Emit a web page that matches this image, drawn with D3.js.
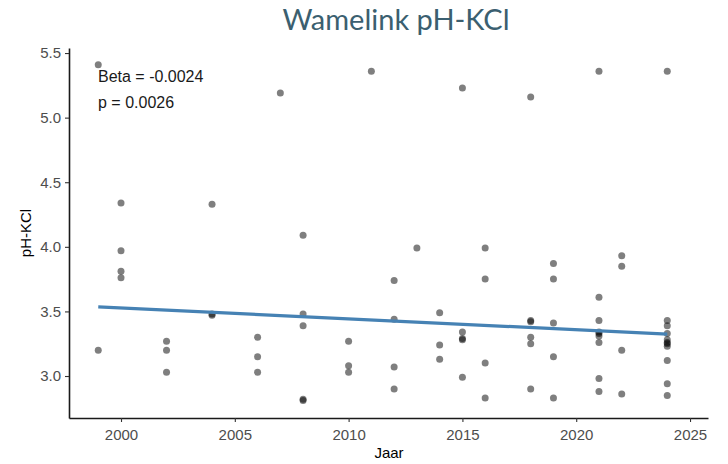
<!DOCTYPE html>
<html>
<head>
<meta charset="utf-8">
<script src="https://cdn.jsdelivr.net/npm/d3@7"></script>
<style>
body { margin: 0; background: #fff; }
svg { display: block; }
</style>
</head>
<body>
<svg id="chart"></svg>
<script>
var years = [1999, 1999,
  2000, 2000, 2000, 2000,
  2002, 2002, 2002,
  2004, 2004, 2004,
  2006, 2006, 2006,
  2007,
  2008, 2008, 2008, 2008, 2008,
  2010, 2010, 2010,
  2011,
  2012, 2012, 2012, 2012,
  2013,
  2014, 2014, 2014,
  2015, 2015, 2015, 2015, 2015,
  2016, 2016, 2016, 2016,
  2018, 2018, 2018, 2018, 2018, 2018,
  2019, 2019, 2019, 2019, 2019,
  2021, 2021, 2021, 2021, 2021, 2021, 2021, 2021, 2021,
  2022, 2022, 2022, 2022,
  2024, 2024, 2024, 2024, 2024, 2024, 2024, 2024, 2024, 2024, 2024];
var phValues = [5.41, 3.20,
  4.34, 3.97, 3.81, 3.76,
  3.27, 3.20, 3.03,
  4.33, 3.47, 3.48,
  3.30, 3.15, 3.03,
  5.19,
  4.09, 3.48, 3.39, 2.82, 2.81,
  3.27, 3.08, 3.03,
  5.36,
  3.74, 3.44, 3.07, 2.90,
  3.99,
  3.49, 3.24, 3.13,
  5.23, 3.34, 3.28, 3.29, 2.99,
  3.99, 3.75, 3.10, 2.83,
  5.16, 3.42, 3.43, 3.30, 3.25, 2.90,
  3.87, 3.75, 3.41, 3.15, 2.83,
  5.36, 3.61, 3.43, 3.34, 3.33, 3.31, 3.26, 2.98, 2.88,
  3.93, 3.85, 3.20, 2.86,
  5.36, 3.43, 3.39, 3.33, 3.28, 3.25, 3.26, 3.23, 3.12, 2.94, 2.85];
var trendYears = [1999, 2024];
var trendValues = [3.535, 3.325];
var xTicks = [2000, 2005, 2010, 2015, 2020, 2025];
var yTicks = [3.0, 3.5, 4.0, 4.5, 5.0, 5.5];
var statLines = ["Beta = -0.0024", "p = 0.0026"];

var W = 728, H = 464;
var svg = d3.select("#chart").attr("width", W).attr("height", H);

var x = d3.scaleLinear().domain([1997.715, 2025.79]).range([69, 708]);
var y = d3.scaleLinear().domain([2.675, 5.539]).range([418, 48]);

// title
svg.append("text")
  .attr("x", 396).attr("y", 30)
  .attr("text-anchor", "middle")
  .attr("font-family", "Lato, 'Open Sans', sans-serif")
  .attr("font-size", 29)
  .attr("fill", "#3b5f70")
  .text("Wamelink pH-KCl");

// axes
var xAxis = svg.append("g")
  .attr("transform", "translate(0,418)")
  .call(d3.axisBottom(x).tickValues(xTicks).tickSizeInner(4).tickSizeOuter(0).tickPadding(4).tickFormat(d3.format("d")));
var yAxis = svg.append("g")
  .attr("transform", "translate(69,0)")
  .call(d3.axisLeft(y).tickValues(yTicks).tickSizeInner(4).tickSizeOuter(0).tickPadding(4).tickFormat(d3.format(".1f")));

[xAxis, yAxis].forEach(function(g) {
  g.select(".domain").attr("stroke", "#1a1a1a").attr("stroke-width", 1.6);
  g.selectAll(".tick line").attr("stroke", "#333").attr("stroke-width", 1.1);
  g.selectAll(".tick text")
    .attr("fill", "#4d4d4d")
    .attr("font-family", "'Liberation Sans', Arial, sans-serif")
    .attr("font-size", 15);
});
xAxis.selectAll(".tick text").attr("dy", "0.95em");

// axis titles
svg.append("text")
  .attr("x", 389).attr("y", 458)
  .attr("text-anchor", "middle")
  .attr("font-family", "'Liberation Sans', Arial, sans-serif")
  .attr("font-size", 15)
  .attr("fill", "#000")
  .text("Jaar");
svg.append("text")
  .attr("transform", "translate(31,233) rotate(-90)")
  .attr("text-anchor", "middle")
  .attr("font-family", "'Liberation Sans', Arial, sans-serif")
  .attr("font-size", 15)
  .attr("fill", "#000")
  .text("pH-KCl");

// points
var pts = years.map(function(yr, i) { return {yr: yr, v: phValues[i]}; });
svg.append("g").selectAll("circle")
  .data(pts)
  .enter()
  .append("circle")
  .attr("cx", function(d) { return x(d.yr); })
  .attr("cy", function(d) { return y(d.v); })
  .attr("r", 3.5)
  .attr("fill", "#000")
  .attr("fill-opacity", 0.5);

// trend line
var line = d3.line()
  .x(function(d, i) { return x(trendYears[i]); })
  .y(function(d) { return y(d); });
svg.append("path")
  .datum(trendValues)
  .attr("d", line)
  .attr("fill", "none")
  .attr("stroke", "#4682b4")
  .attr("stroke-width", 3.2);

// stats annotation
svg.append("g").selectAll("text")
  .data(statLines)
  .enter()
  .append("text")
  .attr("x", 98)
  .attr("y", function(d, i) { return 82 + i * 26; })
  .attr("font-family", "'Liberation Sans', Arial, sans-serif")
  .attr("font-size", 16)
  .attr("fill", "#1a1a1a")
  .text(function(d) { return d; });
</script>
</body>
</html>
